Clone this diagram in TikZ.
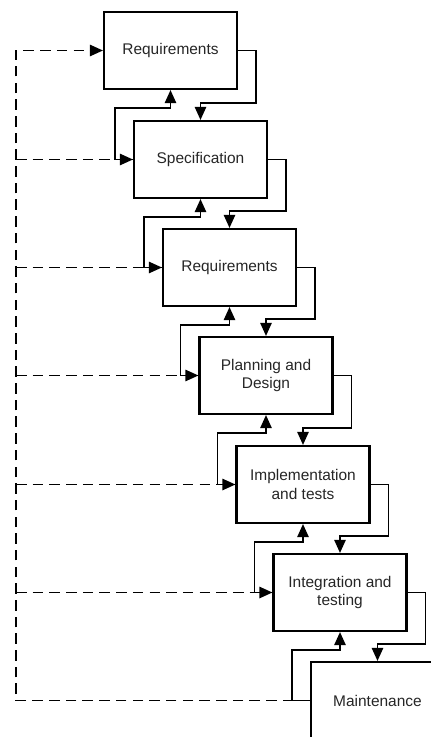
\documentclass[tikz,border=0pt]{standalone}
\usepackage{fontspec}
\setmainfont{Liberation Sans}
\usetikzlibrary{arrows.meta, positioning}

\begin{document}
\begin{tikzpicture}[
    x=0.02cm, y=-0.02cm,
    stage/.style={draw, rectangle, line width=1.2pt, align=center, minimum width=2.66cm, minimum height=1.54cm, inner sep=2pt, font=\fontsize{8.8}{10.8}\selectfont, text=black!85},
    arrow/.style={line width=1pt, -{Triangle[length=7.5pt, width=6.5pt]}},
    fback/.style={arrow, dash pattern=on 6pt off 3.5pt}
]
\useasboundingbox (0,0) rectangle (431,737);
\clip (0,0) rectangle (431,737);
% 1. Stages, one below the other
\node[stage] (req1) at (170.5,50.5) {Requirements};
\node[stage] (spec) at (200.5,159.5) {Specification};
\node[stage] (req2) at (229.5,267.5) {Requirements};
\node[stage] (plan) at (266,375.5) {Planning and\\ Design};
\node[stage] (impl) at (303,484.5) {Implementation\\ and tests};
\node[stage] (integ) at (340,592.5) {Integration and\\ testing};
\node[stage] (maint) at (377.5,700.5) {Maintenance};
% 2. Left rail of the feedback loop
\coordinate (rail) at (16,50.5);
% --- Arrows / Connections ---
% Forward, down the cascade
\draw[arrow] (req1.east) -- ++(18,0) |- ([yshift=0.34cm]spec.north) -- (spec.north);
\draw[arrow] (spec.east) -- ++(18,0) |- ([yshift=0.34cm]req2.north) -- (req2.north);
\draw[arrow] (req2.east) -- ++(18,0) |- ([yshift=0.34cm]plan.north) -- (plan.north);
\draw[arrow] (plan.east) -- ++(18,0) |- ([yshift=0.34cm]impl.north) -- (impl.north);
\draw[arrow] (impl.east) -- ++(18,0) |- ([yshift=0.34cm]integ.north) -- (integ.north);
\draw[arrow] (integ.east) -- ++(18,0) |- ([yshift=0.34cm]maint.north) -- (maint.north);
% Back, up to the stage before
\draw[arrow] (spec.west) -- ++(-18,0) |- ([yshift=-0.36cm]req1.south) -- (req1.south);
\draw[arrow] (req2.west) -- ++(-18,0) |- ([yshift=-0.36cm]spec.south) -- (spec.south);
\draw[arrow] (plan.west) -- ++(-18,0) |- ([yshift=-0.36cm]req2.south) -- (req2.south);
\draw[arrow] (impl.west) -- ++(-18,0) |- ([yshift=-0.36cm]plan.south) -- (plan.south);
\draw[arrow] (integ.west) -- ++(-18,0) |- ([yshift=-0.36cm]impl.south) -- (impl.south);
\draw[arrow] (maint.west) -- ++(-18,0) |- ([yshift=-0.36cm]integ.south) -- (integ.south);
% Feedback from maintenance to every stage
\draw[fback] (maint.west) -| (rail) -- (req1.west);
\draw[fback] (rail |- spec.west) -- (spec.west);
\draw[fback] (rail |- req2.west) -- (req2.west);
\draw[fback] (rail |- plan.west) -- (plan.west);
\draw[fback] (rail |- impl.west) -- (impl.west);
\draw[fback] (rail |- integ.west) -- (integ.west);
\end{tikzpicture}
\end{document}
